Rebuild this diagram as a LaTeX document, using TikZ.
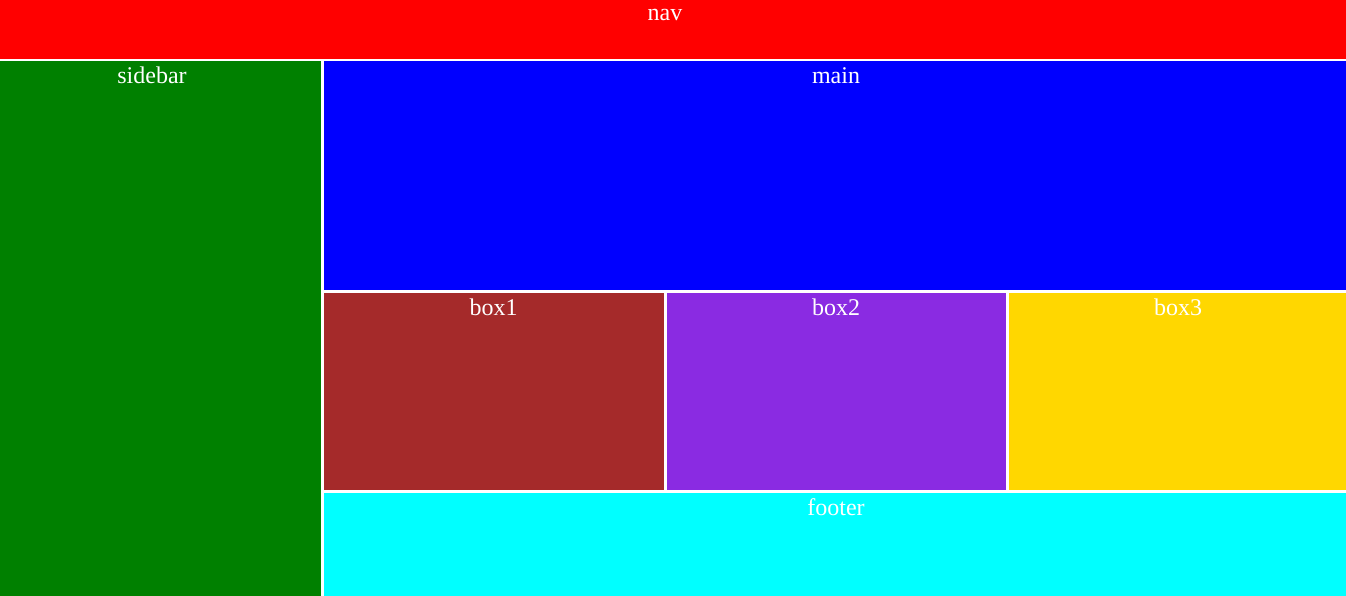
\documentclass[tikz,border=0pt]{standalone}
\usepackage{fontspec}
\setmainfont{Liberation Serif}
\definecolor{navred}{RGB}{255,0,0}
\definecolor{sidegreen}{RGB}{0,128,0}
\definecolor{mainblue}{RGB}{0,0,255}
\definecolor{boxbrown}{RGB}{165,42,42}
\definecolor{boxviolet}{RGB}{138,43,226}
\definecolor{boxgold}{RGB}{255,215,0}
\definecolor{footcyan}{RGB}{0,255,255}
\begin{document}
\begin{tikzpicture}[x=1pt,y=-1pt,
  lbl/.style={text=white,font=\fontsize{24}{28}\selectfont,inner sep=0pt,anchor=base}]
\useasboundingbox (0,0) rectangle (1346,596);
\fill[white] (0,0) rectangle (1346,596);
% areas
\fill[navred] (0,0) rectangle (1346,59);
\fill[sidegreen] (0,61.5) rectangle (320.5,596);
\fill[mainblue] (323.5,61.5) rectangle (1346,290);
\fill[boxbrown] (323.5,293) rectangle (663.5,490);
\fill[boxviolet] (666.5,293) rectangle (1006,490);
\fill[boxgold] (1009,293) rectangle (1346,490);
\fill[footcyan] (323.5,493) rectangle (1346,596);
% labels
\node[lbl] (nav) at (665,21) {nav};
\node[lbl] (sidebar) at (152,84) {sidebar};
\node[lbl] (main) at (836,84) {main};
\node[lbl] (box1) at (493.5,315) {box1};
\node[lbl] (box2) at (836,315) {box2};
\node[lbl] (box3) at (1178,315) {box3};
\node[lbl] (footer) at (836,515) {footer};
\end{tikzpicture}
\end{document}
